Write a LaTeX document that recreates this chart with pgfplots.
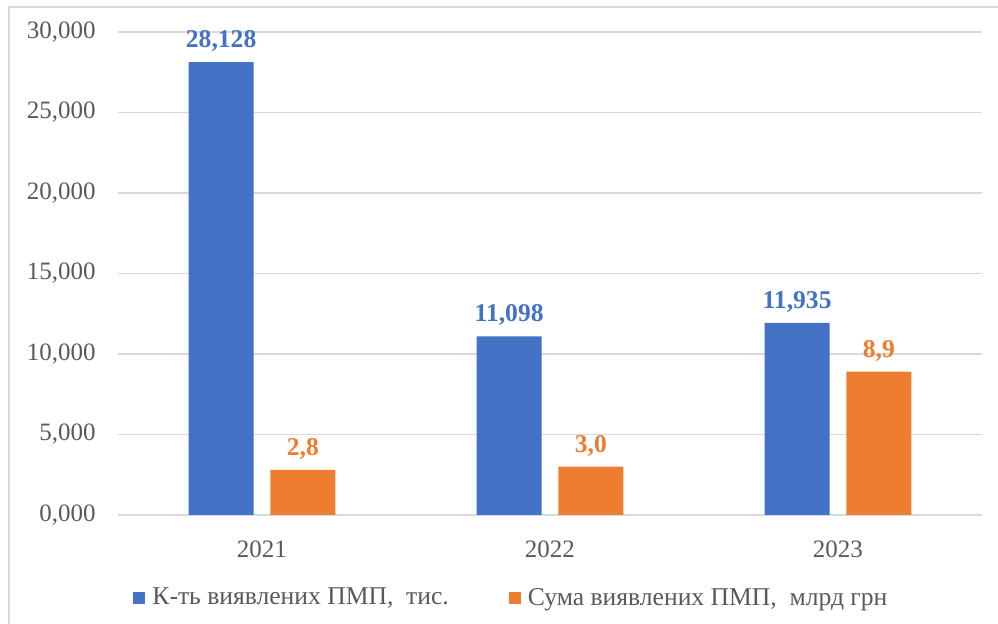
\documentclass[border=0pt]{standalone}
\usepackage{pgfplots}
\pgfplotsset{compat=1.18}
\usepackage{fontspec}
\setmainfont{Liberation Serif}
\definecolor{cblue}{HTML}{4472C4}
\definecolor{corange}{HTML}{ED7D31}
\definecolor{cgrid}{HTML}{D9D9D9}
\definecolor{ctext}{HTML}{595959}
\begin{document}
\begin{tikzpicture}
\useasboundingbox (0,0) rectangle (499pt,312pt);
\draw[cgrid, line width=1pt] (4.5pt,0) -- (4.5pt,308.5pt) -- (499pt,308.5pt);
\begin{axis}[
  at={(59pt,54.5pt)}, anchor=south west,
  scale only axis, width=432pt, height=241.5pt,
  xmin=-0.5, xmax=2.5, ymin=0, ymax=30,
  xtick={0,1,2}, xticklabels={2021,2022,2023},
  ytick={0,5,10,15,20,25,30},
  yticklabels={{0,000},{5,000},{10,000},{15,000},{20,000},{25,000},{30,000}},
  axis line style={draw=none},
  major tick length=0pt,
  ymajorgrids, grid style={cgrid, line width=0.75pt},
  tick label style={font=\fontsize{12.5}{15}\selectfont, text=ctext},
  yticklabel style={anchor=east, inner sep=0pt, xshift=-11pt},
  xticklabel style={anchor=north, inner sep=0pt, yshift=-12.5pt},
  ybar, bar width=0.225,
  nodes near coords,
  every node near coord/.append style={font=\fontsize{12.8}{15}\selectfont\bfseries, anchor=south, inner sep=0pt, text depth=0pt, yshift=7pt},
  legend columns=2,
  legend style={draw=none, fill=none, at={(0.0174,-0.172)}, anchor=west,
    font=\fontsize{12.8}{15}\selectfont, text=ctext, inner sep=0pt,
    nodes={inner sep=0pt}, column sep=3.5pt,
    /tikz/every even column/.append style={column sep=30pt}},
  legend cell align=left,
  clip=false,
]
\addplot[fill=cblue, draw=none, bar shift=-0.142,
  legend image code/.code={\fill[cblue] (0pt,-3pt) rectangle (6pt,3pt);},
  every node near coord/.append style={text=cblue},
  /pgf/number format/.cd, fixed, fixed zerofill, precision=3, use comma, assume math mode=true]
  coordinates {(0,28.128) (1,11.098) (2,11.935)};
\addlegendentry{К-ть виявлених ПМП,\ \ тис.}
\addplot[fill=corange, draw=none, bar shift=0.142,
  legend image code/.code={\fill[corange] (0pt,-3pt) rectangle (6pt,3pt);},
  every node near coord/.append style={text=corange},
  /pgf/number format/.cd, fixed, fixed zerofill, precision=1, use comma, assume math mode=true]
  coordinates {(0,2.8) (1,3.0) (2,8.9)};
\addlegendentry{Сума виявлених ПМП,\ \ млрд грн}
\end{axis}
\end{tikzpicture}
\end{document}
